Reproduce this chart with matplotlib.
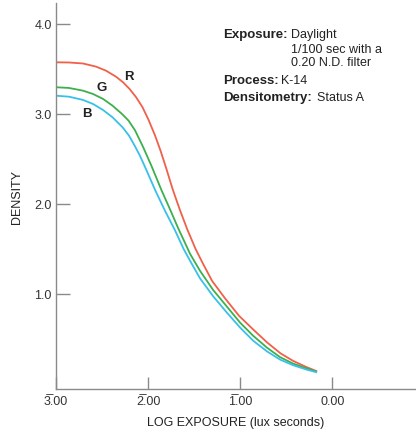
import matplotlib
matplotlib.use("Agg")
import matplotlib.pyplot as plt

plt.rcParams['font.family'] = ['Liberation Sans', 'DejaVu Sans']

# characteristic curves: log exposure (lux seconds) vs density
log_h_red = [-3.000, -2.859, -2.707, -2.565, -2.457, -2.348, -2.272, -2.201, -2.130, -2.060,
             -1.995, -1.924, -1.864, -1.804, -1.734, -1.658, -1.576, -1.484, -1.402, -1.304,
             -1.163, -1.011, -0.859, -0.707, -0.560, -0.424, -0.283, -0.174]
dens_red = [3.574, 3.572, 3.561, 3.526, 3.481, 3.414, 3.352, 3.278, 3.186, 3.074,
            2.935, 2.760, 2.590, 2.400, 2.167, 1.944, 1.722, 1.500, 1.333, 1.144,
            0.950, 0.756, 0.606, 0.461, 0.339, 0.256, 0.189, 0.144]

log_h_green = [-3.000, -2.859, -2.707, -2.598, -2.489, -2.386, -2.283, -2.212, -2.141, -2.054,
               -1.962, -1.853, -1.761, -1.674, -1.543, -1.435, -1.293, -1.141, -1.000, -0.859,
               -0.707, -0.565, -0.424, -0.272, -0.174]
dens_green = [3.297, 3.289, 3.259, 3.222, 3.167, 3.092, 3.000, 2.926, 2.817, 2.633,
              2.420, 2.150, 1.939, 1.733, 1.444, 1.256, 1.044, 0.856, 0.681, 0.536,
              0.402, 0.297, 0.226, 0.170, 0.139]

log_h_blue = [-3.000, -2.859, -2.707, -2.598, -2.489, -2.386, -2.277, -2.207, -2.141, -2.087,
              -2.033, -1.978, -1.924, -1.815, -1.707, -1.614, -1.543, -1.435, -1.293, -1.141,
              -1.000, -0.859, -0.707, -0.565, -0.424, -0.272, -0.174]
dens_blue = [3.203, 3.192, 3.156, 3.111, 3.044, 2.963, 2.852, 2.759, 2.639, 2.533,
             2.411, 2.283, 2.156, 1.922, 1.706, 1.500, 1.367, 1.172, 0.974, 0.789,
             0.626, 0.481, 0.361, 0.270, 0.208, 0.158, 0.131]

x_ticks = [-3, -2, -1, 0]
x_labels = ['3\u0305.00', '2\u0305.00', '1\u0305.00', '0.00']
y_ticks = [1.0, 2.0, 3.0, 4.0]

W, H = 416, 435
fig = plt.figure(figsize=(W / 100, H / 100), dpi=100)
ax = fig.add_axes([56 / W, 1 - 390 / H, 1 - 56 / W, (390 - 4) / H])

ax.plot(log_h_red, dens_red, color='#f0604a', lw=1.3)
ax.plot(log_h_green, dens_green, color='#3cb04c', lw=1.3)
ax.plot(log_h_blue, dens_blue, color='#38c0ea', lw=1.3)

ax.text(-2.21, 3.42, 'R', fontsize=9.5, fontweight='bold', color='#222', ha='center', va='center')
ax.text(-2.50, 3.30, 'G', fontsize=9.5, fontweight='bold', color='#222', ha='center', va='center')
ax.text(-2.66, 3.01, 'B', fontsize=9.5, fontweight='bold', color='#222', ha='center', va='center')

ax.set_xlim(-3, 0.91)
ax.set_ylim(-0.056, 4.233)
ax.set_xticks(x_ticks)
ax.set_xticklabels(x_labels)
ax.set_yticks(y_ticks)
ax.set_yticklabels(['%.1f' % v for v in y_ticks])

for s in ['top', 'right']:
    ax.spines[s].set_visible(False)
for s in ['left', 'bottom']:
    ax.spines[s].set_color('#8a8a8a')
    ax.spines[s].set_linewidth(1.0)

ax.tick_params(axis='y', direction='in', length=10, width=1, color='#8a8a8a',
               labelsize=9, labelcolor='#333', pad=3)
ax.tick_params(axis='x', direction='in', length=9, width=1, color='#8a8a8a',
               labelsize=9, labelcolor='#333', pad=4)

ax.set_xlabel('LOG EXPOSURE (lux seconds)', fontsize=9, color='#222', labelpad=7)
ax.set_ylabel('DENSITY', fontsize=9, color='#222', labelpad=8)

# info block
fb, fr = 9.5, 9

def px(x, y):
    return x / W, 1 - y / H

fig.text(*px(223, 35), 'Exposure:', fontsize=fb, fontweight='bold', color='#222', va='center')
fig.text(*px(291, 35), 'Daylight', fontsize=fr, color='#222', va='center')
fig.text(*px(291, 50), '1/100 sec with a', fontsize=fr, color='#222', va='center')
fig.text(*px(291, 63), '0.20 N.D. filter', fontsize=fr, color='#222', va='center')
fig.text(*px(223, 81), 'Process:', fontsize=fb, fontweight='bold', color='#222', va='center')
fig.text(*px(281, 81), 'K-14', fontsize=fr, color='#222', va='center')
fig.text(*px(223, 98), 'Densitometry:', fontsize=fb, fontweight='bold', color='#222', va='center')
fig.text(*px(317, 98), 'Status A', fontsize=fr, color='#222', va='center')

fig.savefig('out.png', dpi=100)
